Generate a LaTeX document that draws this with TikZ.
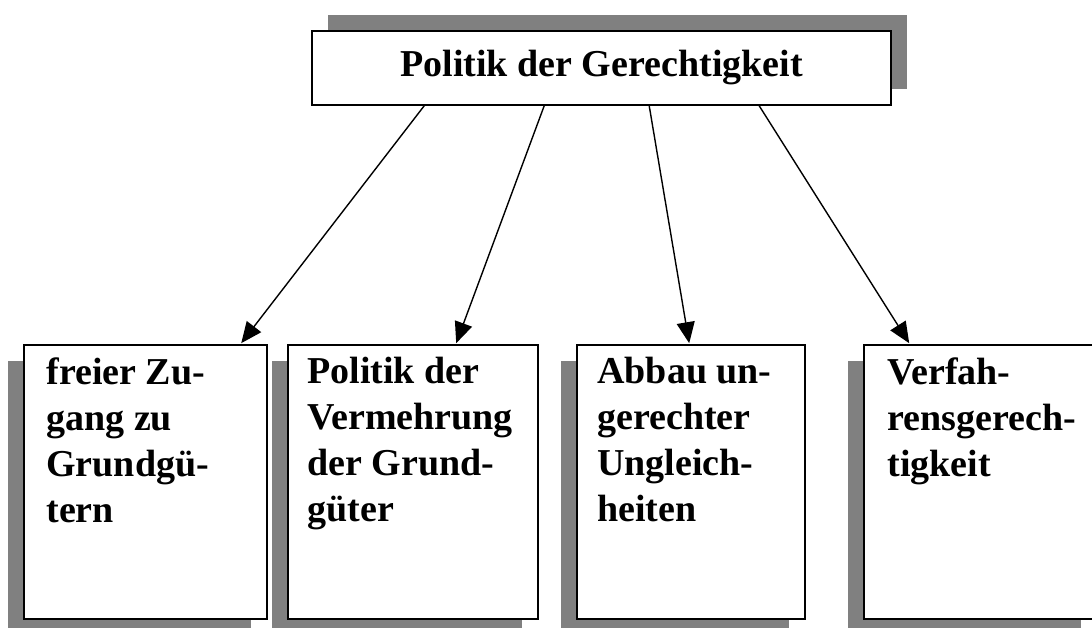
\documentclass[tikz,border=0pt]{standalone}
\usepackage{fontspec}
\setmainfont{Liberation Serif}
\usetikzlibrary{arrows.meta,shadows,calc}
\definecolor{shade}{HTML}{808080}
\begin{document}
\begin{tikzpicture}[x=1pt,y=-1pt,
  frame/.style={draw=black,line width=1.6pt,fill=white,inner sep=0pt},
  upshadow/.style={drop shadow={shadow xshift=16pt,shadow yshift=16pt,fill=shade,opacity=1}},
  downshadow/.style={drop shadow={shadow xshift=-16pt,shadow yshift=-16pt,fill=shade,opacity=1}},
  bigfont/.style={font=\fontsize{38}{46}\selectfont\bfseries},
  boxtext/.style={bigfont,anchor=north west,align=left,inner sep=0pt},
  arr/.style={line width=1.4pt,-{Triangle[length=21pt,width=18pt]}}]
\clip (0,0) rectangle (1092,628);

% headline box
\node[frame,upshadow,bigfont,minimum width=579pt,minimum height=74pt] (top) at (601.5,68) {Politik der Gerechtigkeit};

% the four boxes below
\node[frame,downshadow,minimum width=243pt,minimum height=274pt] (b1) at (145.5,482) {};
\node[frame,downshadow,minimum width=250pt,minimum height=274pt] (b2) at (413,482) {};
\node[frame,downshadow,minimum width=228pt,minimum height=274pt] (b3) at (691,482) {};
\node[frame,downshadow,minimum width=233pt,minimum height=274pt] (b4) at (980.5,482) {};

\node[boxtext] (t1) at ($(b1.north west)+(23,13)$) {freier Zu-\\gang zu\\Grundgü-\\tern};
\node[boxtext] (t2) at ($(b2.north west)+(20,13)$) {Politik der\\Vermehrung\\der Grund-\\güter};
\node[boxtext] (t3) at ($(b3.north west)+(21,13)$) {Abbau un-\\gerechter\\Ungleich-\\heiten};
\node[boxtext] (t4) at ($(b4.north west)+(24,13)$) {Verfah-\\rensgerech-\\tigkeit};

% connectors
\draw[arr] ($(top.south west)+(113,0)$) -- ($(b1.north west)+(218,-1)$);
\draw[arr] ($(top.south west)+(233,0)$) -- ($(b2.north west)+(169,-1)$);
\draw[arr] ($(top.south west)+(338,0)$) -- ($(b3.north west)+(113,-1)$);
\draw[arr] ($(top.south west)+(448,0)$) -- ($(b4.north west)+(46,-1)$);
\end{tikzpicture}
\end{document}
